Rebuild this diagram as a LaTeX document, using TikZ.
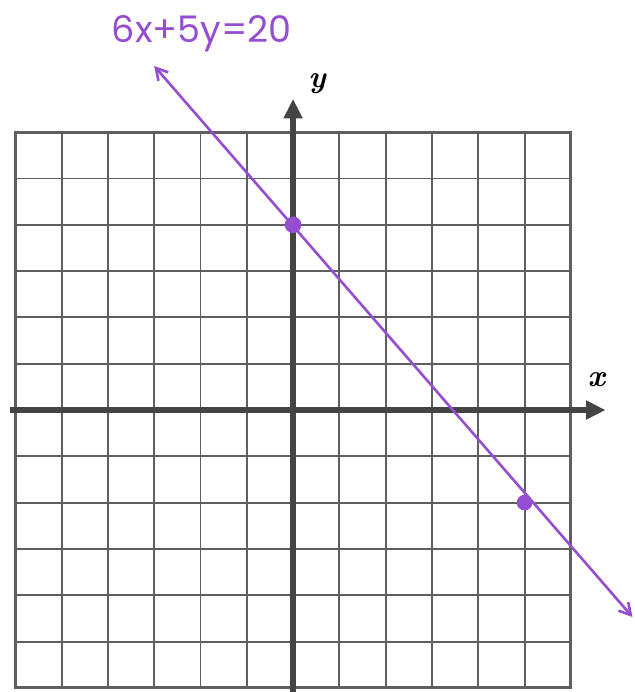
\documentclass[tikz,border=0pt]{standalone}
\usepackage{fontspec}
\newfontfamily\handfont{Poppins}
\usetikzlibrary{arrows.meta}
\definecolor{penpurple}{RGB}{150,78,208}
\definecolor{gridgray}{RGB}{95,95,95}
\definecolor{axisgray}{RGB}{68,68,68}
\begin{document}
\begin{tikzpicture}[
  x=1cm,
  y=1cm,
  gridline/.style={draw=gridgray,line width=1.2pt},
  frame/.style={draw=gridgray,line width=1.8pt},
  axis/.style={draw=axisgray,line width=3.8pt,-{Triangle[length=12pt,width=11pt]}},
  graphline/.style={draw=penpurple,line width=1.6pt,{Straight Barb[length=7pt,width=8pt]}-{Straight Barb[length=7pt,width=8pt]}},
  plotpt/.style={fill=penpurple},
  axislabel/.style={font=\fontsize{19}{21}\selectfont\bfseries\itshape,text=black}
]
  \useasboundingbox (-6.33,-6.09) rectangle (7.365,8.855);

  \foreach \k in {-5,...,5} {
    \draw[gridline] (\k,-6)--(\k,6);
    \draw[gridline] (-6,\k)--(6,\k);
  }
  \draw[frame] (-6,-6) rectangle (6,6);

  \draw[axis] (-6.11,0)--(6.75,0);
  \draw[axis] (0,-6.09)--(0,6.72);
  \node[axislabel] (xlabel) at (6.55,0.65) {x};
  \node[axislabel] (ylabel) at (0.52,7.05) {y};

  \coordinate (lineA) at (-3.0,7.43);
  \coordinate (lineB) at (7.33,-4.47);
  \draw[graphline] (lineA)--(lineB);
  \fill[plotpt] (0,4) circle (0.18);
  \fill[plotpt] (5,-2) circle (0.17);

  \node[text=penpurple,font=\handfont\fontsize{22.5}{24}\selectfont] (eqn) at (-1.97,8.12) {6x+5y=20};
\end{tikzpicture}
\end{document}
